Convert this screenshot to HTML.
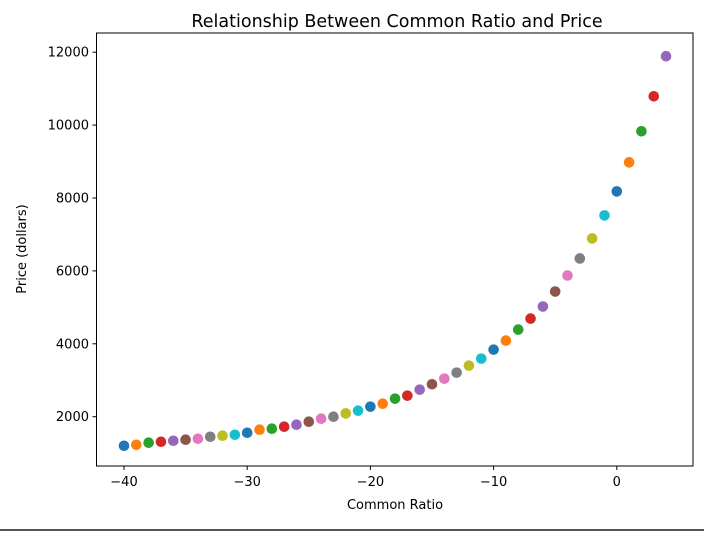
<!DOCTYPE html>
<html><head><meta charset="utf-8"><style>
body{margin:0;background:#fff;font-family:"DejaVu Sans","Liberation Sans",sans-serif}
</style></head><body>
<svg width="704" height="532" xmlns="http://www.w3.org/2000/svg" font-family="DejaVu Sans, Liberation Sans, sans-serif">
<rect width="704" height="532" fill="#fff"/>
<line x1="0" y1="530" x2="704" y2="530" stroke="#555" stroke-width="2"/>
<text x="397" y="27" font-size="17.5" text-anchor="middle" fill="#000">Relationship Between Common Ratio and Price</text>
<text x="395" y="509" font-size="13" text-anchor="middle">Common Ratio</text>
<text transform="translate(26,249) rotate(-90)" font-size="13" text-anchor="middle">Price (dollars)</text>
<g id="ticks"></g>
<g id="marks"></g>
<rect x="96.5" y="33" width="596.5" height="433" fill="none" stroke="#000" stroke-width="1"/>
</svg>
<script>
const ratios=[-40,-39,-38,-37,-36,-35,-34,-33,-32,-31,-30,-29,-28,-27,-26,-25,-24,-23,-22,-21,-20,-19,-18,-17,-16,-15,-14,-13,-12,-11,-10,-9,-8,-7,-6,-5,-4,-3,-2,-1,0,1,2,3,4];
const prices=[1203,1230,1286,1313,1340,1368,1395,1450,1478,1505,1560,1643,1670,1725,1780,1863,1945,2000,2090,2165,2275,2357,2495,2577,2742,2890,3044,3209,3401,3593,3840,4088,4390,4692,5022,5434,5874,6341,6890,7522,8181,8978,9830,10791,11890];
const xTicks=[-40,-30,-20,-10,0];
const yTicks=[2000,4000,6000,8000,10000,12000];
const colors=["#1f77b4","#ff7f0e","#2ca02c","#d62728","#9467bd","#8c564b","#e377c2","#7f7f7f","#bcbd22","#17becf"];
const NS="http://www.w3.org/2000/svg";
function xs(v){return 124+(v+40)*12.32;}
function ys(v){return 416.7-(v-2000)*0.03645;}
const tg=document.getElementById('ticks');
xTicks.forEach(t=>{
 const l=document.createElementNS(NS,'line');
 l.setAttribute('x1',xs(t));l.setAttribute('x2',xs(t));l.setAttribute('y1',466);l.setAttribute('y2',470);l.setAttribute('stroke','#000');
 
 
 tg.appendChild(l);
 const tx=document.createElementNS(NS,'text');
 tx.setAttribute('x',xs(t));tx.setAttribute('y',486);tx.setAttribute('font-size','13');tx.setAttribute('text-anchor','middle');
 tx.textContent=(t<0?'\u2212'+(-t):t);
 
 
 tg.appendChild(tx);
});
yTicks.forEach(t=>{
 const l=document.createElementNS(NS,'line');
 l.setAttribute('x1',92.5);l.setAttribute('x2',96.5);l.setAttribute('y1',ys(t));l.setAttribute('y2',ys(t));l.setAttribute('stroke','#000');
 
 
 tg.appendChild(l);
 const tx=document.createElementNS(NS,'text');
 tx.setAttribute('x',89);tx.setAttribute('y',ys(t)+4.5);tx.setAttribute('font-size','13');tx.setAttribute('text-anchor','end');
 tx.textContent=t;
 
 
 tg.appendChild(tx);
});
const mg=document.getElementById('marks');
ratios.forEach((r,i)=>{
 const c=document.createElementNS(NS,'circle');
 c.setAttribute('cx',xs(r));c.setAttribute('cy',ys(prices[i]));c.setAttribute('r',5.3);c.setAttribute('fill',colors[i%10]);
 
 
 mg.appendChild(c);
});
</script>
</body></html>
